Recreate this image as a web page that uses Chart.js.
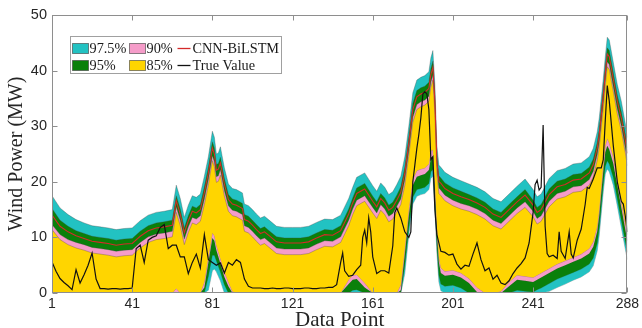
<!DOCTYPE html>
<html>
<head>
<meta charset="utf-8">
<script src="https://cdn.jsdelivr.net/npm/chart.js@4.4.1/dist/chart.umd.min.js"></script>
<style>
  html, body { margin: 0; padding: 0; background: #ffffff; }
  #wrap { position: relative; width: 642px; height: 328px; }
</style>
</head>
<body>
<div id="wrap"><canvas id="c" width="642" height="328"></canvas></div>
<script>
// ---- data ----------------------------------------------------------------
// Data-point positions at which the interval bounds and the forecast are given
const bandIdx = [
  1, 5, 9, 13, 17, 21, 25, 29, 33, 37,
  41, 45, 49, 53, 57, 61, 63, 65, 67, 69,
  71, 73, 75, 77, 79, 81, 82, 83, 84, 85,
  87, 89, 91, 93, 95, 96, 97, 99, 101, 103,
  105, 107, 109, 113, 117, 121, 125, 129, 133, 137,
  141, 145, 149, 151, 153, 157, 161, 163, 165, 167,
  169, 171, 173, 175, 177, 179, 181, 183, 185, 187,
  189, 190, 191, 192, 193, 194, 195, 197, 201, 205,
  209, 213, 217, 221, 225, 229, 233, 237, 241, 243,
  245, 249, 253, 257, 261, 265, 269, 271, 273, 274,
  275, 276, 277, 278, 279, 281, 283, 285, 287, 288
];

// Upper bounds of the prediction intervals (MW)
const upper975 = [
  17.5, 15.3, 14.1, 13.2, 12.6, 12.1, 11.9, 11.7, 11.4, 11.6,
  11.7, 13.0, 14.0, 14.5, 14.7, 15.0, 19.4, 17.0, 13.6, 15.8,
  17.5, 17.2, 17.8, 21.0, 24.5, 29.1, 28.0, 25.0, 25.2, 26.3,
  22.5, 19.6, 18.8, 18.6, 18.2, 18.0, 16.0, 15.7, 15.0, 14.2,
  13.5, 13.8, 13.2, 12.0, 11.8, 11.8, 11.8, 12.0, 12.7, 13.3,
  13.2, 14.0, 17.0, 19.0, 20.8, 21.6, 19.3, 18.3, 19.8, 19.0,
  17.7, 18.2, 19.5, 21.0, 24.5, 30.0, 36.0, 38.3, 38.8, 39.1,
  39.8, 42.3, 43.6, 37.5, 26.5, 23.0, 22.6, 21.7, 20.8, 20.2,
  19.6, 19.0, 18.2, 17.0, 16.4, 17.8, 19.2, 20.5, 18.6, 17.3,
  17.8, 20.6, 22.0, 22.4, 23.2, 23.4, 24.5, 26.0, 29.0, 31.5,
  35.0, 38.5, 42.5, 46.0, 45.5, 41.5, 37.5, 34.5, 30.5, 28.0
];
const upper95 = [
  15.2, 13.1, 12.0, 11.2, 10.7, 10.2, 10.0, 9.8, 9.5, 9.7,
  9.8, 11.1, 12.1, 12.6, 12.8, 13.1, 17.5, 15.1, 11.7, 13.9,
  15.6, 15.3, 15.9, 19.1, 22.6, 27.2, 26.1, 23.1, 23.3, 24.4,
  20.6, 17.7, 16.9, 16.7, 16.3, 16.1, 14.1, 13.8, 13.1, 12.3,
  11.6, 11.9, 11.3, 10.1, 9.9, 9.9, 9.9, 10.1, 10.8, 11.4,
  11.3, 12.1, 15.1, 17.1, 18.9, 19.7, 17.4, 16.4, 17.9, 17.1,
  15.8, 16.3, 17.6, 19.1, 22.6, 28.1, 34.1, 36.4, 36.9, 37.2,
  37.9, 40.4, 41.7, 35.6, 24.6, 21.1, 20.7, 19.8, 18.9, 18.3,
  17.7, 17.1, 16.3, 15.1, 14.5, 15.9, 17.3, 18.6, 16.7, 15.4,
  15.9, 18.7, 20.1, 20.5, 21.3, 21.5, 22.6, 24.1, 27.1, 29.6,
  33.1, 36.6, 40.6, 44.1, 43.6, 39.6, 35.6, 32.6, 28.6, 26.1
];
const upper90 = [
  12.3, 10.5, 9.6, 9.1, 8.7, 8.2, 8.0, 7.8, 7.5, 7.7,
  7.8, 9.1, 10.1, 10.6, 10.8, 11.1, 15.5, 13.1, 9.7, 11.9,
  13.6, 13.3, 13.9, 16.9, 20.4, 24.7, 23.6, 20.9, 21.1, 22.2,
  18.4, 15.7, 14.9, 14.7, 14.3, 14.1, 12.1, 11.8, 11.1, 10.3,
  9.6, 9.9, 9.3, 8.1, 7.9, 7.9, 7.9, 8.1, 8.8, 9.4,
  9.3, 10.1, 13.1, 15.1, 16.7, 17.5, 15.4, 14.4, 15.9, 15.1,
  13.8, 14.3, 15.6, 16.9, 20.4, 25.6, 31.6, 33.9, 34.4, 34.7,
  35.4, 37.9, 39.2, 33.1, 22.4, 18.9, 18.5, 17.6, 16.7, 16.1,
  15.7, 15.1, 14.3, 13.1, 12.5, 13.9, 15.3, 16.4, 14.7, 13.4,
  13.9, 16.5, 17.9, 18.3, 19.1, 19.3, 20.4, 21.9, 24.9, 27.1,
  30.6, 34.1, 38.1, 41.6, 41.1, 37.1, 33.1, 30.1, 26.1, 23.9
];
const upper85 = [
  11.4, 9.6, 8.7, 8.1, 7.7, 7.2, 7.0, 6.8, 6.5, 6.7,
  6.8, 8.1, 9.1, 9.6, 9.8, 10.1, 14.5, 12.1, 8.7, 10.9,
  12.6, 12.3, 12.9, 15.9, 19.4, 23.8, 22.7, 19.9, 20.1, 21.2,
  17.4, 14.7, 13.9, 13.7, 13.3, 13.1, 11.1, 10.8, 10.1, 9.3,
  8.6, 8.9, 8.3, 7.1, 6.9, 6.9, 6.9, 7.1, 7.8, 8.4,
  8.3, 9.1, 12.1, 14.1, 15.7, 16.5, 14.4, 13.4, 14.9, 14.1,
  12.8, 13.3, 14.6, 15.9, 19.4, 24.7, 30.7, 33.0, 33.5, 33.8,
  34.5, 37.0, 38.3, 32.2, 21.4, 17.9, 17.5, 16.6, 15.7, 15.1,
  14.7, 14.1, 13.3, 12.1, 11.5, 12.9, 14.3, 15.4, 13.7, 12.4,
  12.9, 15.5, 16.9, 17.3, 18.1, 18.3, 19.4, 20.9, 23.9, 26.2,
  29.7, 33.2, 37.2, 40.7, 40.2, 36.2, 32.2, 29.2, 25.2, 22.9
];

// Lower bounds of the prediction intervals (MW, floored at 0)
const lower85 = [
  0, 0, 0, 0, 0, 0, 0, 0, 0, 0,
  0, 0, 0, 0, 0, 0, 0.8, 0, 0, 0,
  0, 0, 0, 2.0, 6.5, 10.8, 10.3, 8.6, 7.4, 6.2,
  3.8, 2.0, 0.3, 0, 0, 0, 0, 0, 0, 0,
  0, 0, 0, 0, 0, 0, 0, 0, 0, 0,
  0, 0, 2.4, 3.2, 3.3, 1.8, 0, 0, 0, 0,
  0, 0, 0, 1.5, 8.0, 15.0, 20.5, 22.0, 22.3, 22.5,
  23.2, 25.5, 25.8, 20.0, 12.0, 6.5, 4.5, 3.9, 4.1, 3.6,
  2.6, 1.0, 0, 0, 0.3, 2.0, 3.2, 3.0, 2.8, 3.2,
  3.6, 4.4, 5.2, 5.8, 6.4, 7.0, 8.0, 9.2, 12.0, 15.0,
  19.0, 23.0, 26.5, 27.8, 27.0, 24.5, 20.5, 16.5, 12.5, 10.5
];
const lower90 = [
  0, 0, 0, 0, 0, 0, 0, 0, 0, 0,
  0, 0, 0, 0, 0, 0, 0, 0, 0, 0,
  0, 0, 0, 1.0, 5.5, 9.9, 9.4, 7.7, 6.5, 5.3,
  2.9, 1.2, 0, 0, 0, 0, 0, 0, 0, 0,
  0, 0, 0, 0, 0, 0, 0, 0, 0, 0,
  0, 0, 1.6, 2.4, 2.5, 1.0, 0, 0, 0, 0,
  0, 0, 0, 0.5, 7.0, 14.0, 19.4, 20.9, 21.2, 21.4,
  22.1, 24.3, 24.6, 18.8, 10.9, 5.5, 3.6, 3.1, 3.3, 2.8,
  1.8, 0.2, 0, 0, 0, 1.2, 2.4, 2.2, 2.0, 2.4,
  2.8, 3.6, 4.4, 5.0, 5.6, 6.2, 7.1, 8.3, 11.1, 14.0,
  18.0, 21.9, 25.3, 26.5, 25.8, 23.3, 19.4, 15.4, 11.4, 9.4
];
const lower95 = [
  0, 0, 0, 0, 0, 0, 0, 0, 0, 0,
  0, 0, 0, 0, 0, 0, 0, 0, 0, 0,
  0, 0, 0, 0, 3.0, 6.8, 6.8, 5.8, 4.8, 3.8,
  1.5, 0, 0, 0, 0, 0, 0, 0, 0, 0,
  0, 0, 0, 0, 0, 0, 0, 0, 0, 0,
  0, 0, 0, 0.5, 0.6, 0, 0, 0, 0, 0,
  0, 0, 0, 0, 5.0, 11.8, 17.2, 18.6, 18.8, 19.0,
  19.7, 21.8, 22.2, 16.4, 8.6, 3.2, 1.6, 1.2, 1.4, 0.9,
  0, 0, 0, 0, 0, 0, 0.5, 0.3, 0.2, 0.6,
  0.9, 1.7, 2.5, 3.1, 3.7, 4.3, 5.2, 6.3, 9.0, 11.8,
  15.7, 19.6, 22.8, 23.8, 23.2, 20.8, 17.0, 13.1, 9.2, 7.3
];
const lower975 = [
  0, 0, 0, 0, 0, 0, 0, 0, 0, 0,
  0, 0, 0, 0, 0, 0, 0, 0, 0, 0,
  0, 0, 0, 0, 0.5, 4.0, 4.3, 3.8, 3.0, 2.2,
  0, 0, 0, 0, 0, 0, 0, 0, 0, 0,
  0, 0, 0, 0, 0, 0, 0, 0, 0, 0,
  0, 0, 0, 0, 0, 0, 0, 0, 0, 0,
  0, 0, 0, 0, 3.5, 10.5, 16.0, 17.4, 17.7, 17.9,
  18.6, 20.6, 21.0, 15.2, 7.4, 2.0, 0.4, 0, 0, 0,
  0, 0, 0, 0, 0, 0, 0, 0, 0, 0,
  0, 0.3, 1.0, 1.6, 2.3, 2.9, 3.8, 4.9, 7.6, 10.4,
  14.3, 18.2, 21.4, 22.3, 21.8, 19.4, 15.7, 11.8, 7.9, 6.0
];

// CNN-BiLSTM point forecast (MW)
const forecastMW = [
  14.0, 12.0, 11.0, 10.3, 9.8, 9.3, 9.1, 8.9, 8.6, 8.8,
  8.9, 10.2, 11.2, 11.7, 11.9, 12.2, 16.6, 14.2, 10.8, 13.0,
  14.7, 14.4, 15.0, 18.1, 21.6, 26.1, 25.0, 22.1, 22.3, 23.4,
  19.6, 16.8, 16.0, 15.8, 15.4, 15.2, 13.2, 12.9, 12.2, 11.4,
  10.7, 11.0, 10.4, 9.2, 9.0, 9.0, 9.0, 9.2, 9.9, 10.5,
  10.4, 11.2, 14.2, 16.2, 17.9, 18.7, 16.5, 15.5, 17.0, 16.2,
  14.9, 15.4, 16.7, 18.1, 21.6, 27.0, 33.0, 35.3, 35.8, 36.1,
  36.8, 39.3, 40.6, 34.5, 23.6, 20.1, 19.7, 18.8, 17.9, 17.3,
  16.8, 16.2, 15.4, 14.2, 13.6, 15.0, 16.4, 17.6, 15.8, 14.5,
  15.0, 17.7, 19.1, 19.5, 20.3, 20.5, 21.6, 23.1, 26.1, 28.5,
  32.0, 35.5, 39.5, 43.0, 42.5, 38.5, 34.5, 31.5, 27.5, 25.1
];

// Measured wind power (MW)
const actualIdx = [
  1, 3, 5, 7, 9, 11, 13, 15, 17, 19, 21, 23, 25, 27, 29, 31, 33, 35, 37, 39, 41,
  43, 45, 47, 49, 51, 53, 55, 57, 59, 61, 63, 65, 67, 69, 71, 73, 75, 77, 79, 81,
  83, 85, 87, 89, 91, 93, 95, 97, 99, 101,
  103, 105, 107, 109, 111, 113, 115, 117, 119, 121, 123, 125, 127, 129, 131, 133,
  135, 137, 139, 141,
  143, 145, 146, 147, 149, 151, 153, 155, 156, 157, 158, 159, 160, 161, 163, 165,
  167, 169, 171, 172, 173, 175, 177, 179, 180,
  181, 182, 183, 184, 185, 186, 187, 188, 189, 190, 191, 192, 193,
  195, 197, 199, 201, 203, 205, 207, 209, 211, 213, 215, 217, 219, 221, 223, 225,
  227, 229, 231, 233, 235, 237, 239,
  241, 242, 243, 244, 245, 246, 247, 248, 249, 251, 253, 254, 255, 257, 259, 260,
  261, 263, 265, 267, 268, 269, 271, 273, 275, 276, 277, 278, 279, 281, 283, 285,
  286, 287, 288
];
const actualMW = [
  5.6, 3.9, 2.6, 1.9, 1.3, 0.6, 4.2, 1.8, 3.3, 5.0, 7.2, 2.5, 0.8, 0.8, 0.7, 0.8, 0.8, 0.7, 0.8, 0.8, 0.9,
  8.0, 8.6, 5.5, 9.5, 10.0, 10.3, 11.8, 12.3, 8.0, 8.6, 8.6, 6.5, 6.5, 3.5, 5.5, 7.0, 4.5, 10.5, 6.0, 5.5,
  5.0, 5.4, 3.6, 5.5, 5.0, 6.0, 5.5, 2.5, 1.2, 0.9,
  0.9, 0.9, 0.8, 0.8, 0.9, 0.8, 0.8, 0.9, 0.9, 0.8, 0.8, 0.8, 0.9, 0.9, 0.8, 0.8,
  0.9, 0.9, 1.0, 1.0,
  1.5, 5.5, 7.2, 4.0, 3.0, 3.2, 4.2, 5.0, 10.0, 11.3, 9.0, 13.5, 11.0, 6.5, 3.5, 4.0,
  4.0, 3.6, 8.5, 14.5, 15.3, 13.5, 11.0, 10.0, 11.0,
  20.0, 23.0, 26.0, 28.5, 31.5, 35.8, 36.2, 35.8, 33.0, 24.0, 24.5, 15.0, 10.5,
  7.5, 7.3, 6.8, 7.0, 5.2, 4.3, 5.0, 4.8, 7.0, 9.0, 6.0, 4.0, 4.5, 2.5, 3.2, 1.8,
  1.5, 2.2, 3.5, 4.5, 5.3, 6.3, 9.0,
  14.5, 19.5, 20.3, 18.5, 19.0, 30.2, 12.0, 7.1, 6.5, 6.8, 6.2, 11.0, 7.5, 6.2, 11.0, 7.0,
  6.3, 9.5, 11.5, 16.0, 19.0, 18.8, 20.5, 22.5, 22.5, 24.0, 31.0, 37.3, 34.5, 26.5, 20.0, 16.5,
  16.0, 13.8, 11.0
];

// Axis ticks and legend labels
const xTicks = [1, 41, 81, 121, 161, 201, 241, 288];
const yTicks = [0, 10, 20, 30, 40, 50];
const bandLabels = ['97.5%', '95%', '90%', '85%'];
const lineLabels = ['CNN-BiLSTM', 'True Value'];

// ---- styling ---------------------------------------------------------------
const COL = {
  b975: '#22c2c2',
  b95: '#0a800a',
  b90: '#f59cc9',
  b85: '#ffd500',
  model: '#d42a2a',
  actual: '#111111'
};
const EDGE = 'rgba(70,70,70,0.55)';
const SERIF = '"Liberation Serif", "Times New Roman", Times, serif';
const SANS = '"Liberation Sans", Arial, Helvetica, sans-serif';
const TEXT = '#262626';

const toPoints = (idx, vals) => idx.map((x, k) => ({ x: x, y: vals[k] }));

function band(label, hi, lo, color, order) {
  return [
    { label: label, data: toPoints(bandIdx, hi), backgroundColor: color,
      borderColor: EDGE, borderWidth: 0.6, fill: '+1', order: order },
    { label: label + ' (lower)', data: toPoints(bandIdx, lo),
      borderColor: EDGE, borderWidth: 0.6, fill: false, order: order }
  ];
}

const datasets = [
  { label: lineLabels[1], data: toPoints(actualIdx, actualMW),
    borderColor: COL.actual, borderWidth: 1.2, fill: false, order: 0 },
  { label: lineLabels[0], data: toPoints(bandIdx, forecastMW),
    borderColor: COL.model, borderWidth: 1.1, fill: false, order: 1 },
  ...band(bandLabels[3], upper85, lower85, COL.b85, 2),
  ...band(bandLabels[2], upper90, lower90, COL.b90, 3),
  ...band(bandLabels[1], upper95, lower95, COL.b95, 4),
  ...band(bandLabels[0], upper975, lower975, COL.b975, 5)
];

// Box around the axes with inward tick marks on all four sides
const framePlugin = {
  id: 'frame',
  afterDatasetsDraw(chart) {
    const { ctx, chartArea: a, scales } = chart;
    const L = Math.round(a.left) + 0.5, R = Math.round(a.right) - 0.5;
    const T = Math.round(a.top) + 0.5, B = Math.round(a.bottom) - 0.5;
    ctx.save();
    ctx.strokeStyle = '#8e8e8e';
    ctx.lineWidth = 1;
    ctx.strokeRect(L, T, R - L, B - T);
    const len = 5;
    ctx.beginPath();
    xTicks.forEach(v => {
      const px = Math.round(scales.x.getPixelForValue(v)) + 0.5;
      ctx.moveTo(px, B); ctx.lineTo(px, B - len);
      ctx.moveTo(px, T); ctx.lineTo(px, T + len);
    });
    yTicks.forEach(v => {
      const py = Math.round(scales.y.getPixelForValue(v)) + 0.5;
      ctx.moveTo(L, py); ctx.lineTo(L + len, py);
      ctx.moveTo(R, py); ctx.lineTo(R - len, py);
    });
    ctx.stroke();
    ctx.restore();
  }
};

// Two-row legend box: bands as swatches, series as short lines
const legendPlugin = {
  id: 'boxLegend',
  afterDraw(chart) {
    const ctx = chart.ctx;
    const box = { x: 70.5, y: 36.5, w: 211, h: 37 };
    const rows = [48.5, 65.5];
    const cols = [72.5, 129.5, 177.5];
    ctx.save();
    ctx.fillStyle = '#ffffff';
    ctx.fillRect(box.x, box.y, box.w, box.h);
    ctx.strokeStyle = '#a0a0a0';
    ctx.lineWidth = 1;
    ctx.strokeRect(box.x, box.y, box.w, box.h);
    ctx.font = '14.3px ' + SERIF;
    ctx.textBaseline = 'middle';
    ctx.textAlign = 'left';
    const swatches = [
      [bandLabels[0], COL.b975, 0, 0],
      [bandLabels[1], COL.b95, 0, 1],
      [bandLabels[2], COL.b90, 1, 0],
      [bandLabels[3], COL.b85, 1, 1]
    ];
    swatches.forEach(([lab, col, c, r]) => {
      const x = cols[c], y = rows[r];
      ctx.fillStyle = col;
      ctx.fillRect(x, y - 5, 16, 10);
      ctx.strokeStyle = 'rgba(60,60,60,0.6)';
      ctx.strokeRect(x, y - 5, 16, 10);
      ctx.fillStyle = '#1a1a1a';
      ctx.fillText(lab, x + 17, y + 1);
    });
    const lines = [[lineLabels[0], COL.model, 0], [lineLabels[1], COL.actual, 1]];
    lines.forEach(([lab, col, r]) => {
      const x = cols[2], y = rows[r];
      ctx.strokeStyle = col;
      ctx.lineWidth = 1.3;
      ctx.beginPath();
      ctx.moveTo(x, y); ctx.lineTo(x + 13, y);
      ctx.stroke();
      ctx.fillStyle = '#1a1a1a';
      ctx.fillText(lab, x + 15, y + 1);
    });
    ctx.restore();
  }
};

new Chart(document.getElementById('c'), {
  type: 'line',
  data: { datasets: datasets },
  plugins: [framePlugin, legendPlugin],
  options: {
    responsive: false,
    animation: false,
    devicePixelRatio: 1,
    layout: { padding: { left: 0, right: 14, top: 15, bottom: 0 } },
    elements: { point: { radius: 0 }, line: { tension: 0 } },
    plugins: { legend: { display: false }, tooltip: { enabled: false } },
    scales: {
      x: {
        type: 'linear', min: 1, max: 288,
        afterBuildTicks: s => { s.ticks = xTicks.map(v => ({ value: v })); },
        afterFit: s => { s.height = 35; },
        grid: { display: false, drawTicks: false },
        border: { display: false },
        ticks: { font: { family: SANS, size: 14 }, color: TEXT, padding: 3,
                 maxRotation: 0, autoSkip: false },
        title: { display: true, text: 'Data Point', color: TEXT,
                 font: { family: SERIF, size: 21, lineHeight: 1 },
                 padding: { top: 0, bottom: -3 } }
      },
      y: {
        type: 'linear', min: 0, max: 50,
        afterBuildTicks: s => { s.ticks = yTicks.map(v => ({ value: v })); },
        afterFit: s => { s.width = 52; },
        grid: { display: false, drawTicks: false },
        border: { display: false },
        ticks: { font: { family: SANS, size: 14.5 }, color: TEXT, padding: 5 },
        title: { display: true, text: 'Wind Power (MW)', color: TEXT,
                 font: { family: SERIF, size: 20, lineHeight: 1 },
                 padding: { top: 7, bottom: 0 } }
      }
    }
  }
});
</script>
</body>
</html>
